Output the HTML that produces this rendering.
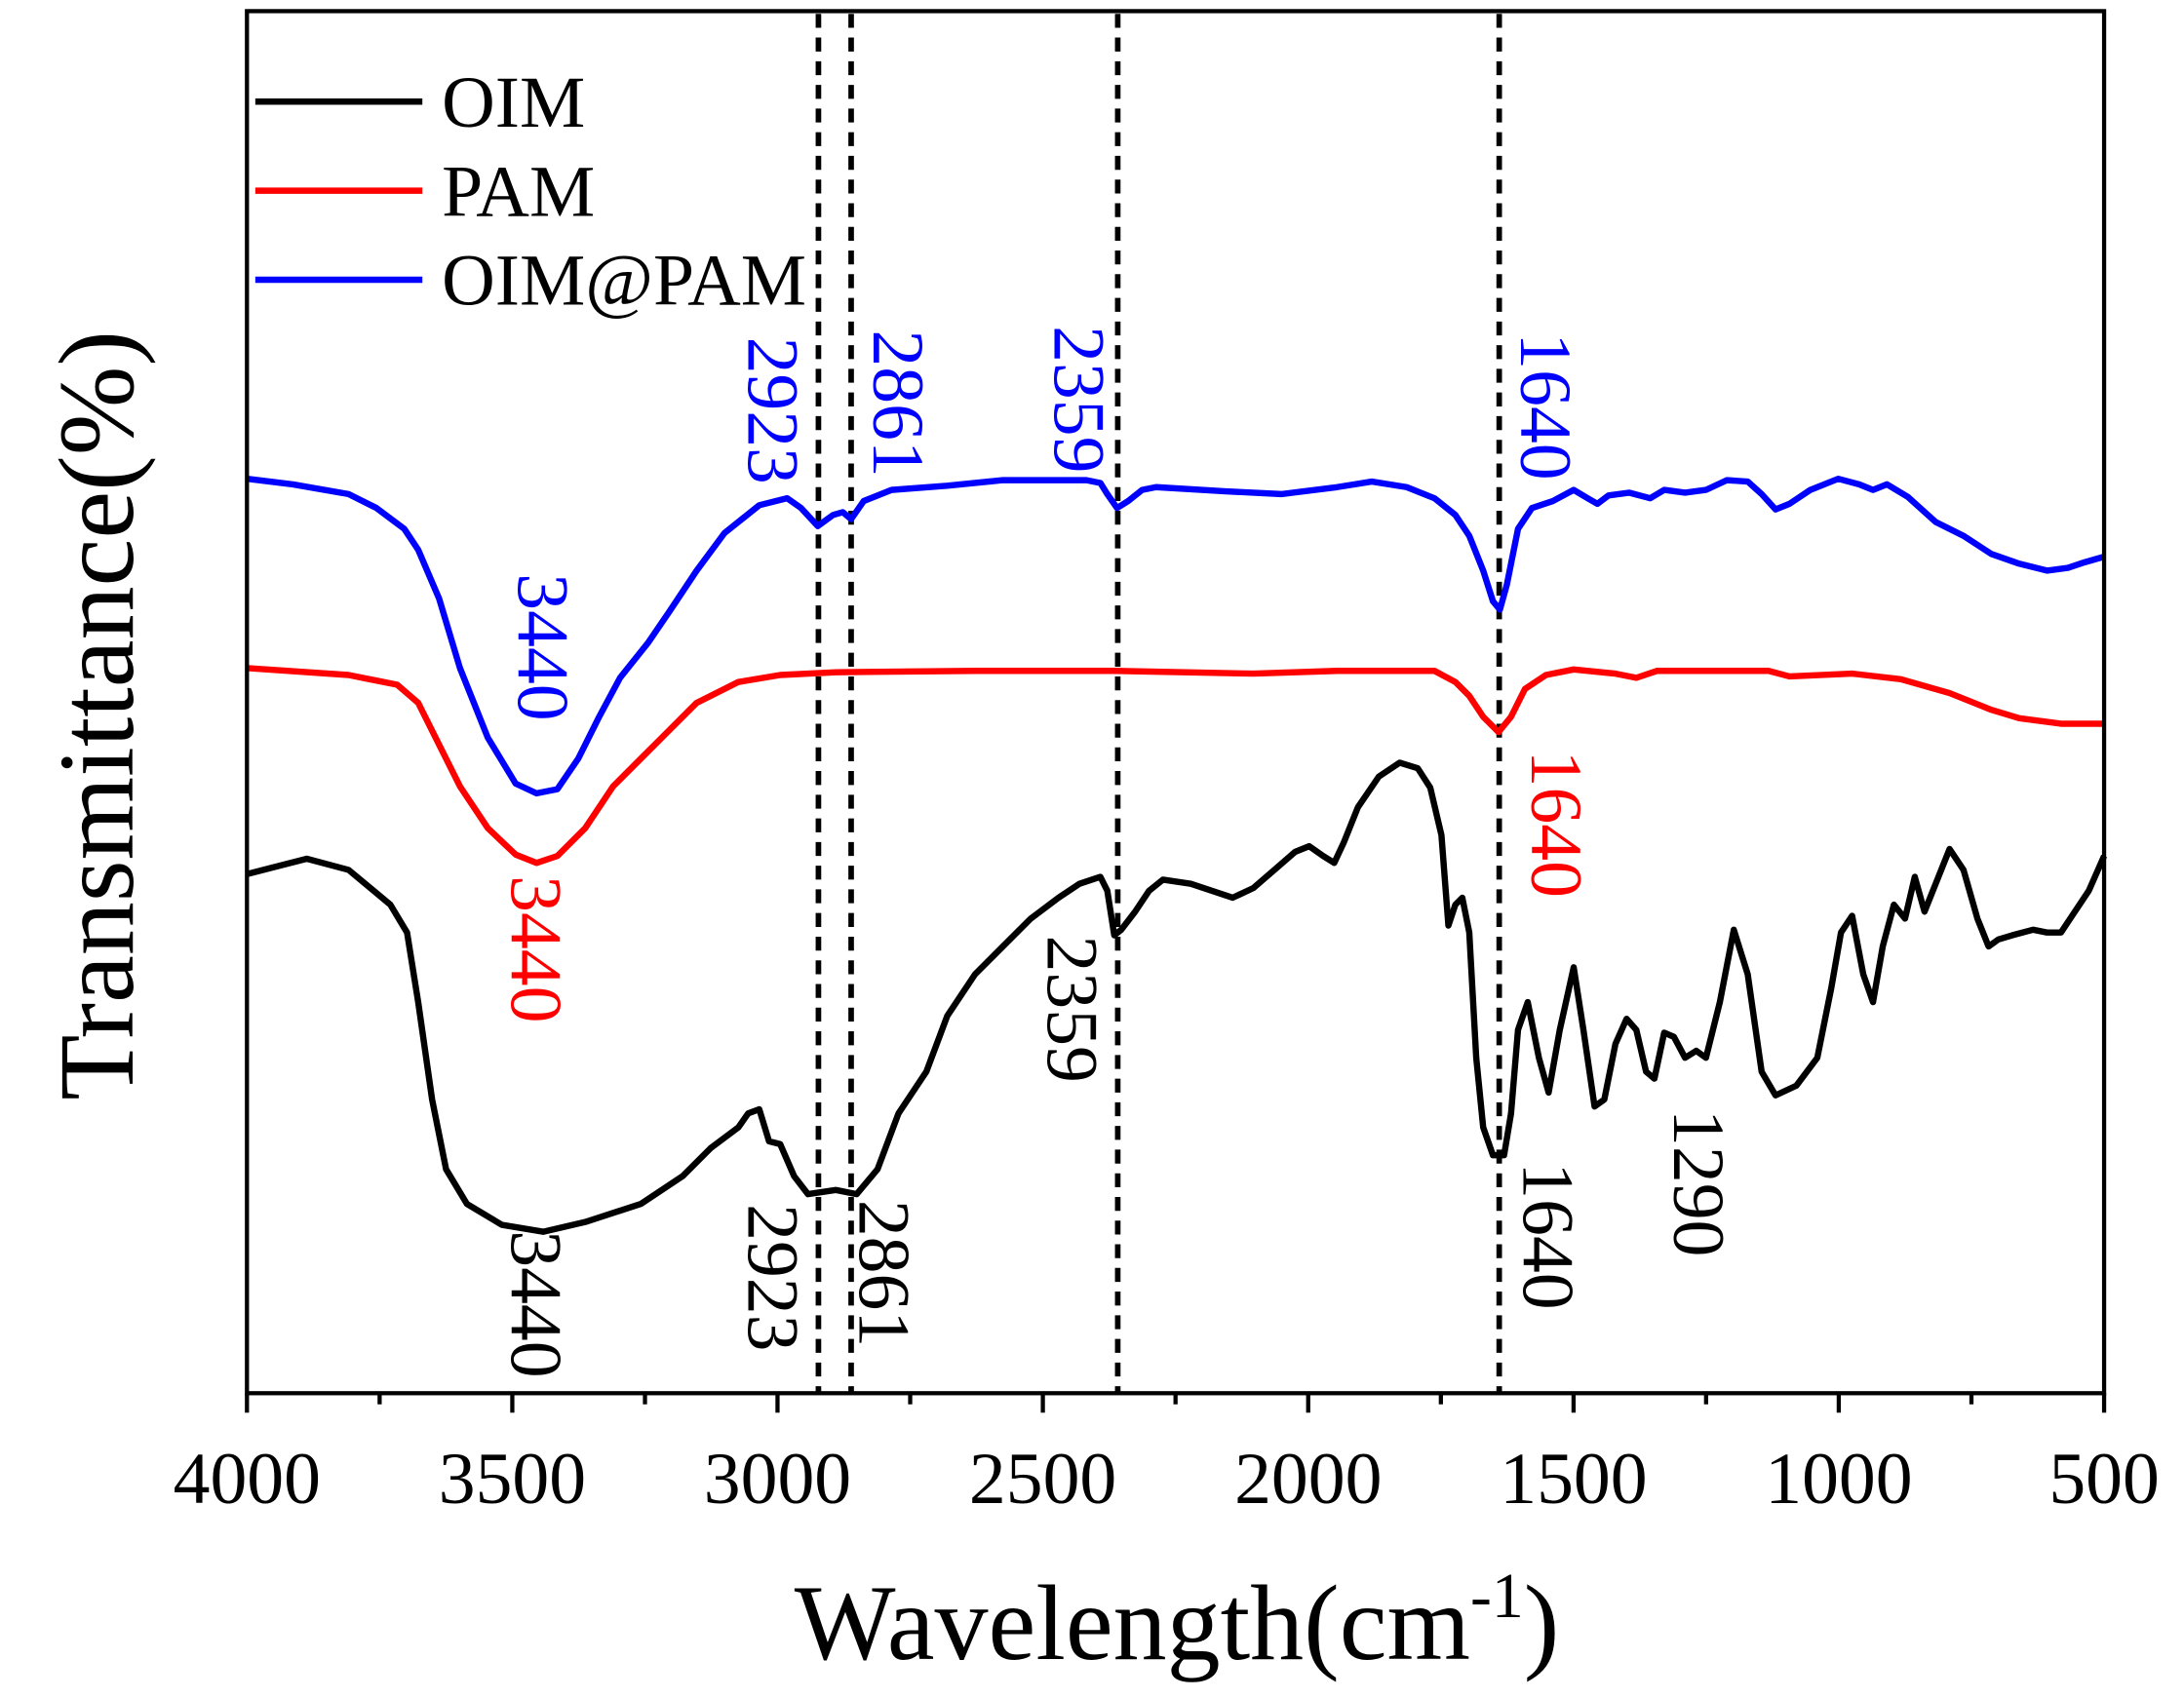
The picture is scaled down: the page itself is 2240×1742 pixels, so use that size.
<!DOCTYPE html>
<html><head><style>body{margin:0;background:#fff}svg{display:block}</style></head><body>
<svg width="2240" height="1742" viewBox="0 0 1568 1220" xmlns="http://www.w3.org/2000/svg" font-family="Liberation Serif, serif">
<rect x="0" y="0" width="1568" height="1220" fill="#fff"/>
<g stroke="#000" stroke-width="4" stroke-dasharray="10,7">
<line x1="587.5" y1="10" x2="587.5" y2="1001"/><line x1="611" y1="10" x2="611" y2="1001"/>
<line x1="802.5" y1="10" x2="802.5" y2="1001"/><line x1="1076.5" y1="10" x2="1076.5" y2="1001"/>
</g>
<g fill="none" stroke-width="4.5" stroke-linejoin="round">
<polyline stroke="#00f" points="177,344 210,348 250,355 270,365 290,380 300,395 315,430 330,480 350,530 370,563 385,570 400,567 415,545 430,515 445,487 465,462 480,440 500,410 520,383 545,363 565,358 575,365 587,378 598,370 605,368 611,373 620,360 640,352 680,349 720,345 780,345 790,347 795,355 802,365 810,360 820,352 830,350 880,353 920,355 960,350 985,346 1010,350 1030,358 1045,370 1055,385 1065,410 1072,432 1077,438 1082,420 1090,380 1100,365 1115,360 1130,352 1140,358 1147,362 1155,356 1170,354 1185,358 1195,352 1210,354 1225,352 1240,345 1255,346 1265,355 1275,366 1285,362 1300,352 1320,344 1335,348 1345,352 1355,348 1370,357 1390,375 1410,385 1430,398 1450,405 1470,410 1485,408 1497,404 1511,400"/>
<polyline stroke="#f00" points="177,480 250,485 285,492 300,505 315,535 330,565 350,595 370,614 385,620 400,615 420,595 440,565 460,545 480,525 500,505 530,490 560,485 600,483 700,482 800,482 900,484 960,482 1030,482 1045,490 1055,500 1065,515 1076,526 1085,515 1095,495 1110,485 1130,481 1160,484 1175,487 1190,482 1270,482 1285,486 1330,484 1365,488 1400,498 1430,510 1450,516 1480,520 1511,520"/>
<polyline stroke="#000" points="177,628 220,617 250,625 280,650 292,670 300,720 310,790 320,840 335,865 360,880 390,885 420,878 460,865 490,845 510,825 530,810 537,800 545,797 552,820 560,822 570,845 580,858 600,855 615,858 630,840 645,800 655,785 665,770 680,730 700,700 720,680 740,660 760,645 775,635 790,630 795,640 800,672 805,668 815,655 825,640 835,632 855,635 870,640 885,645 900,638 915,625 930,612 940,608 950,615 958,620 965,605 975,580 990,558 1005,548 1018,552 1027,566 1035,600 1040,665 1045,650 1050,645 1055,670 1060,760 1065,810 1072,830 1080,830 1085,800 1090,740 1097,720 1105,760 1112,785 1120,740 1130,695 1137,740 1145,795 1152,790 1160,750 1168,732 1175,740 1182,770 1188,775 1195,742 1202,745 1210,760 1218,755 1225,760 1235,720 1245,668 1255,700 1265,770 1275,787 1290,780 1305,760 1315,710 1322,670 1330,658 1338,700 1345,720 1352,680 1360,650 1368,660 1375,630 1382,655 1392,630 1400,610 1410,625 1420,660 1428,680 1435,675 1445,672 1460,668 1470,670 1480,670 1490,655 1500,640 1511,615"/>
</g>
<rect x="177" y="8" width="1334" height="993" fill="none" stroke="#000" stroke-width="3"/>
<g stroke="#000" stroke-width="3">
<line x1="177" y1="1001" x2="177" y2="1015"/><line x1="367.6" y1="1001" x2="367.6" y2="1015"/><line x1="558.1" y1="1001" x2="558.1" y2="1015"/><line x1="748.7" y1="1001" x2="748.7" y2="1015"/><line x1="939.3" y1="1001" x2="939.3" y2="1015"/><line x1="1129.9" y1="1001" x2="1129.9" y2="1015"/><line x1="1320.4" y1="1001" x2="1320.4" y2="1015"/><line x1="1511" y1="1001" x2="1511" y2="1015"/>
<line x1="272.3" y1="1001" x2="272.3" y2="1009"/><line x1="462.9" y1="1001" x2="462.9" y2="1009"/><line x1="653.4" y1="1001" x2="653.4" y2="1009"/><line x1="844" y1="1001" x2="844" y2="1009"/><line x1="1034.6" y1="1001" x2="1034.6" y2="1009"/><line x1="1225.1" y1="1001" x2="1225.1" y2="1009"/><line x1="1415.7" y1="1001" x2="1415.7" y2="1009"/>
</g>
<g font-size="53" text-anchor="middle">
<text x="177" y="1080">4000</text><text x="367.6" y="1080">3500</text><text x="558.1" y="1080">3000</text><text x="748.7" y="1080">2500</text><text x="939.3" y="1080">2000</text><text x="1129.9" y="1080">1500</text><text x="1320.4" y="1080">1000</text><text x="1511" y="1080">500</text>
</g>
<text x="845" y="1192" font-size="77" text-anchor="middle">Wavelength(cm<tspan font-size="46" dy="-30">-1</tspan><tspan dy="30">)</tspan></text>
<text transform="translate(95,514) rotate(-90)" font-size="77" text-anchor="middle">Transmittance(%)</text>
<g stroke-width="4.5">
<line x1="183" y1="73" x2="303" y2="73" stroke="#000"/><line x1="183" y1="137" x2="303" y2="137" stroke="#f00"/><line x1="183" y1="201" x2="303" y2="201" stroke="#00f"/>
</g>
<g font-size="53"><text x="317" y="91">OIM</text><text x="317" y="155">PAM</text><text x="317" y="219">OIM@PAM</text></g>
<g font-size="53" text-anchor="middle">
<g fill="#00f">
<text transform="translate(537,295) rotate(90)">2923</text>
<text transform="translate(627,290) rotate(90)">2861</text>
<text transform="translate(757,287) rotate(90)">2359</text>
<text transform="translate(1092,292) rotate(90)">1640</text>
<text transform="translate(372,465) rotate(90)">3440</text>
</g>
<g fill="#f00">
<text transform="translate(367,682) rotate(90)">3440</text>
<text transform="translate(1100,592) rotate(90)">1640</text>
</g>
<g fill="#000">
<text transform="translate(367,937) rotate(90)">3440</text>
<text transform="translate(537,918) rotate(90)">2923</text>
<text transform="translate(617,915) rotate(90)">2861</text>
<text transform="translate(752,725) rotate(90)">2359</text>
<text transform="translate(1094,888) rotate(90)">1640</text>
<text transform="translate(1202,850) rotate(90)">1290</text>
</g>
</g>
</svg>
</body></html>
